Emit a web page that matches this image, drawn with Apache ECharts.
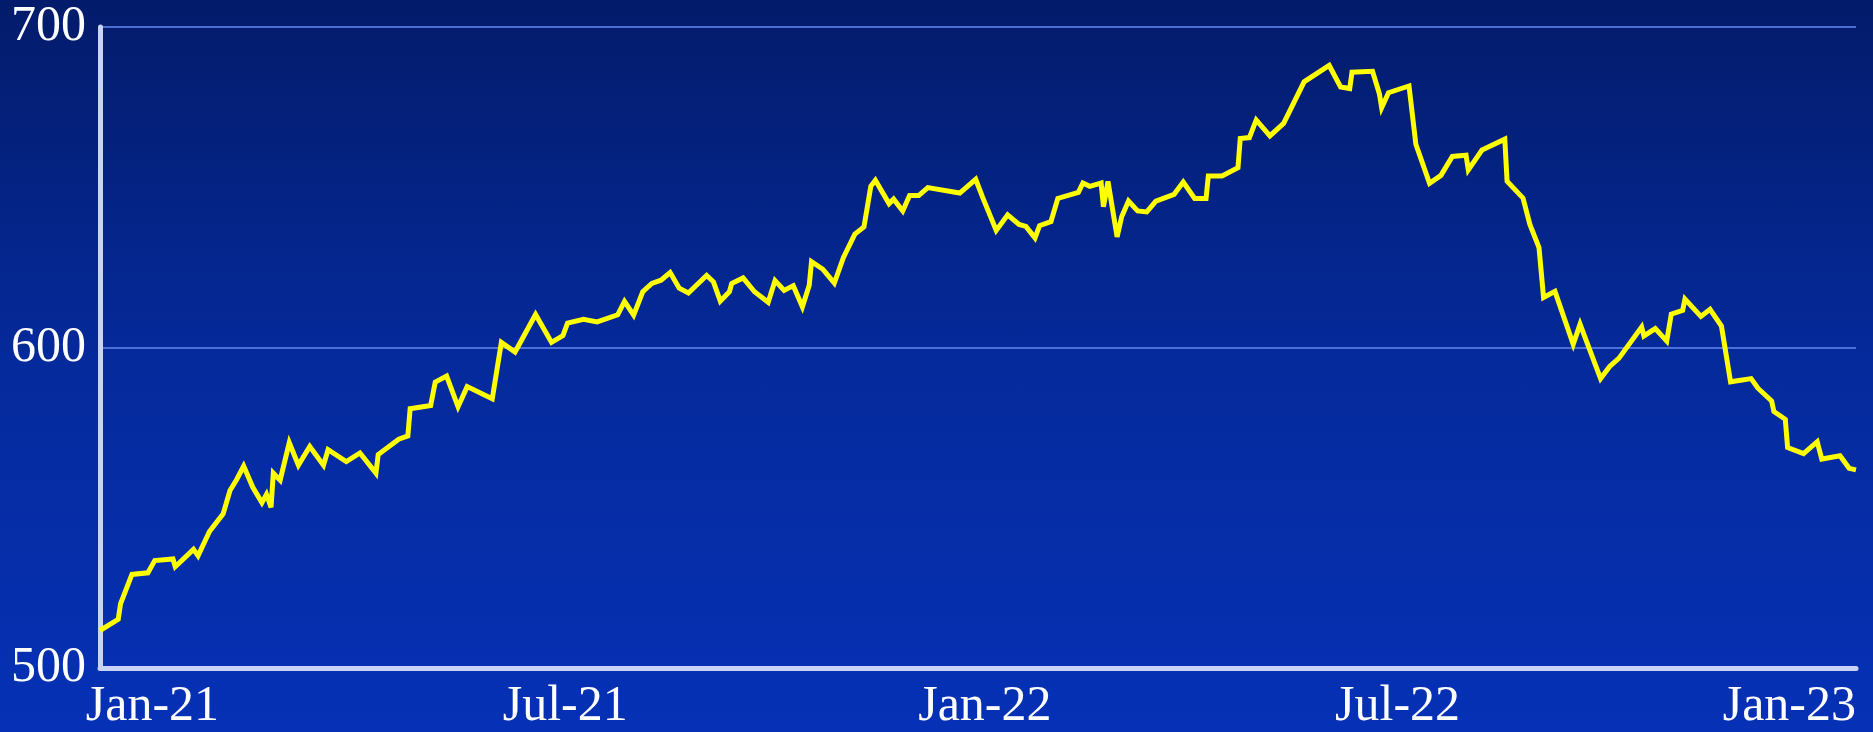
<!DOCTYPE html>
<html>
<head>
<meta charset="utf-8">
<script src="https://cdn.jsdelivr.net/npm/echarts@6/dist/echarts.min.js"></script>
<style>
  html, body { margin: 0; padding: 0; }
  #chart {
    width: 1873px;
    height: 732px;
    background: linear-gradient(to bottom, #031b6a 0%, #052a9c 50%, #0631b6 100%);
  }
</style>
</head>
<body>
<div id="chart"></div>
<script>
// Index level, observation dates and values
const dates = [
  '2020-12-09','2020-12-17','2020-12-18','2020-12-23','2020-12-30','2021-01-02','2021-01-10','2021-01-11','2021-01-19','2021-01-21',
  '2021-01-26','2021-02-01','2021-02-04','2021-02-07','2021-02-10','2021-02-14','2021-02-18','2021-02-20','2021-02-22','2021-02-23',
  '2021-02-26','2021-03-02','2021-03-06','2021-03-11','2021-03-17','2021-03-19','2021-03-27','2021-04-02','2021-04-09','2021-04-10',
  '2021-04-19','2021-04-23','2021-04-24','2021-05-03','2021-05-05','2021-05-10','2021-05-15','2021-05-19','2021-05-30','2021-06-03',
  '2021-06-09','2021-06-18','2021-06-25','2021-06-30','2021-07-02','2021-07-09','2021-07-15','2021-07-24','2021-07-27','2021-07-31',
  '2021-08-04','2021-08-08','2021-08-12','2021-08-16','2021-08-20','2021-08-24','2021-09-01','2021-09-04','2021-09-07','2021-09-11',
  '2021-09-12','2021-09-17','2021-09-22','2021-09-28','2021-10-01','2021-10-05','2021-10-09','2021-10-13','2021-10-16','2021-10-17',
  '2021-10-22','2021-10-27','2021-10-31','2021-11-05','2021-11-09','2021-11-12','2021-11-14','2021-11-20','2021-11-22','2021-11-26',
  '2021-11-29','2021-12-03','2021-12-07','2021-12-21','2021-12-28','2021-12-31','2022-01-06','2022-01-11','2022-01-16','2022-01-19',
  '2022-01-23','2022-01-25','2022-01-30','2022-02-02','2022-02-11','2022-02-13','2022-02-16','2022-02-21','2022-02-22','2022-02-24',
  '2022-02-28','2022-03-02','2022-03-05','2022-03-09','2022-03-13','2022-03-17','2022-03-25','2022-03-29','2022-04-03','2022-04-08',
  '2022-04-09','2022-04-15','2022-04-22','2022-04-23','2022-04-27','2022-04-30','2022-05-06','2022-05-12','2022-05-21','2022-06-01',
  '2022-06-06','2022-06-10','2022-06-11','2022-06-20','2022-06-23','2022-06-24','2022-06-27','2022-07-06','2022-07-09','2022-07-15',
  '2022-07-20','2022-07-25','2022-07-31','2022-08-01','2022-08-07','2022-08-17','2022-08-18','2022-08-25','2022-08-28','2022-09-01',
  '2022-09-03','2022-09-08','2022-09-16','2022-09-19','2022-09-28','2022-10-02','2022-10-06','2022-10-16','2022-10-17','2022-10-22',
  '2022-10-27','2022-10-29','2022-11-03','2022-11-04','2022-11-11','2022-11-15','2022-11-20','2022-11-24','2022-12-03','2022-12-06',
  '2022-12-12','2022-12-13','2022-12-18','2022-12-19','2022-12-26','2023-01-01','2023-01-03','2023-01-11','2023-01-15','2023-01-18'
];

const values = [
  511.7, 515.2, 520.0, 529.2, 529.7, 533.5, 534.0, 531.6, 537.0, 535.0,
  542.6, 548.1, 555.4, 558.9, 563.0, 556.4, 551.6, 554.2, 550.1, 560.8,
  558.6, 570.3, 563.3, 569.1, 563.3, 568.1, 564.4, 567.1, 560.8, 566.6,
  571.4, 572.4, 580.9, 581.9, 589.2, 591.1, 581.5, 587.8, 584.0, 601.6,
  598.6, 610.3, 601.6, 603.7, 607.6, 608.8, 608.0, 610.2, 614.4, 610.1,
  617.4, 620.0, 621.0, 623.4, 618.5, 617.0, 622.5, 620.5, 614.5, 617.4,
  620.0, 621.7, 617.4, 614.1, 620.9, 617.8, 619.3, 612.7, 619.4, 626.8,
  624.4, 620.1, 628.1, 635.4, 637.6, 650.3, 652.2, 644.9, 646.3, 642.6,
  647.4, 647.4, 649.9, 648.2, 652.5, 646.9, 636.5, 641.4, 638.4, 637.8,
  634.2, 638.0, 639.3, 646.5, 648.4, 651.3, 650.3, 651.3, 643.9, 651.8,
  634.5, 640.8, 645.7, 642.6, 642.3, 645.7, 647.8, 651.6, 646.5, 646.5,
  653.5, 653.5, 656.1, 665.2, 665.5, 671.0, 666.0, 669.9, 682.9, 688.0,
  681.3, 680.8, 685.9, 686.2, 679.2, 674.8, 679.5, 681.6, 663.4, 651.2,
  653.7, 659.6, 660.0, 655.4, 661.6, 665.0, 651.9, 646.6, 638.4, 631.2,
  615.6, 617.5, 601.0, 607.3, 590.3, 594.1, 596.6, 606.4, 603.6, 605.9,
  602.0, 610.4, 611.6, 615.1, 609.7, 611.9, 606.7, 589.3, 590.3, 587.3,
  583.3, 580.0, 577.6, 568.8, 566.9, 570.6, 565.2, 566.2, 562.3, 561.8
];

// Value axis range and step
const yMin = 500;
const yMax = 700;
const yStep = 100;

// Half-year label dates; the final label sits at the end of the axis
const xLabelDates = ['2021-01-01', '2021-07-01', '2022-01-01', '2022-07-01'];

const MONTHS = ['Jan','Feb','Mar','Apr','May','Jun','Jul','Aug','Sep','Oct','Nov','Dec'];

function toTime(str) {
  const p = str.split('-').map(Number);
  return Date.UTC(p[0], p[1] - 1, p[2]);
}

const times = dates.map(toTime);
const seriesData = times.map((t, i) => [t, values[i]]);
const xStart = times[0];
const xEnd = times[times.length - 1];
const labelTimes = xLabelDates.map(toTime).concat([xEnd]);

const FONT = '"Liberation Serif", "Times New Roman", Times, serif';

const chart = echarts.init(document.getElementById('chart'), null, { renderer: 'canvas' });

chart.setOption({
  backgroundColor: 'transparent',
  animation: false,
  grid: { left: 100, right: 17, top: 27, bottom: 63 },
  xAxis: {
    type: 'value',
    min: xStart,
    max: xEnd,
    axisLine: { show: true, lineStyle: { color: '#c9d3f6', width: 5 } },
    axisTick: { show: false },
    splitLine: { show: false },
    axisLabel: {
      customValues: labelTimes,
      color: '#ffffff',
      fontFamily: FONT,
      fontSize: 50,
      margin: 14,
      alignMaxLabel: 'right',
      formatter: function (val) {
        const d = new Date(val);
        return MONTHS[d.getUTCMonth()] + '-' + String(d.getUTCFullYear()).slice(2);
      }
    }
  },
  yAxis: {
    type: 'value',
    min: yMin,
    max: yMax,
    interval: yStep,
    axisLine: { show: true, lineStyle: { color: '#c9d3f6', width: 5 } },
    axisTick: { show: false },
    splitLine: { show: true, lineStyle: { color: '#6388f2', width: 1.5 } },
    axisLabel: {
      color: '#ffffff',
      fontFamily: FONT,
      fontSize: 50,
      margin: 14
    }
  },
  series: [{
    type: 'line',
    data: seriesData,
    showSymbol: false,
    symbol: 'none',
    lineStyle: { color: '#ffff00', width: 5, join: 'miter', miterLimit: 4 },
    z: 5
  }]
});
</script>
</body>
</html>
